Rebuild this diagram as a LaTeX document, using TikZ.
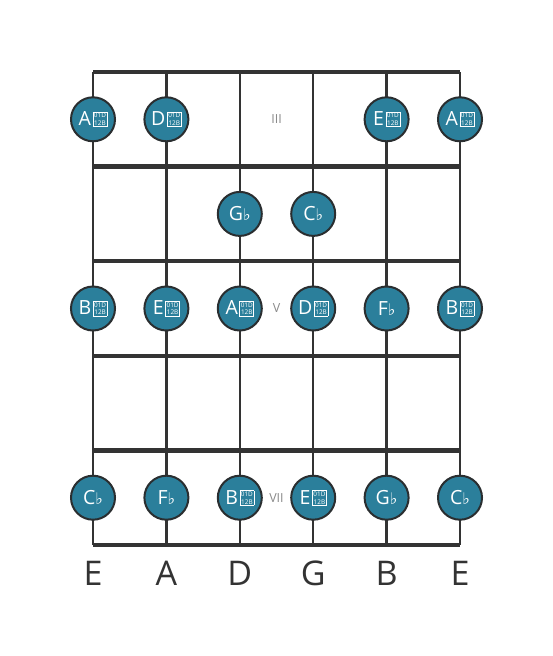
\documentclass[tikz,border=0pt]{standalone}
\usepackage{fontspec}
\setmainfont{Open Sans}
\newfontfamily\symfont{DejaVu Sans}
\usetikzlibrary{positioning}

\definecolor{linegray}{HTML}{333333}
\definecolor{ringgray}{HTML}{2A2E30}
\definecolor{notefill}{HTML}{2B7F9B}
\definecolor{fretgray}{HTML}{8A8A8A}

% missing-glyph box as the picture shows it
\newcommand{\tofubox}{{\setlength{\fboxsep}{0.7pt}\setlength{\fboxrule}{0.6pt}%
  \kern1.6pt\fbox{\fontsize{6.4}{6.2}\selectfont\shortstack{01D\\12B}}}}
\newcommand{\dfl}[1]{#1\tofubox}
\newcommand{\fl}[1]{#1{\symfont\fontsize{16}{16}\selectfont ♭}}

\begin{document}
\begin{tikzpicture}[x=1pt, y=-1pt,
    stringline/.style={line width=2.5pt, draw=linegray},
    fretline/.style={line width=4.5pt, draw=linegray},
    note/.style={circle, draw=ringgray, line width=2pt, fill=notefill,
      minimum size=44pt, inner sep=0pt, text=white,
      font=\fontsize{19.5}{19.5}\selectfont},
    fretnum/.style={text=fretgray, font=\fontsize{12.5}{12.5}\selectfont},
    strname/.style={text=linegray, font=\fontsize{34}{34}\selectfont}]
  \useasboundingbox (0,0) rectangle (553,656);

  % string tops and ends
  \coordinate (t1) at (93,72);    \coordinate (b1) at (93,545);
  \coordinate (t2) at (166.4,72); \coordinate (b2) at (166.4,545);
  \coordinate (t3) at (239.8,72); \coordinate (b3) at (239.8,545);
  \coordinate (t4) at (313.2,72); \coordinate (b4) at (313.2,545);
  \coordinate (t5) at (386.6,72); \coordinate (b5) at (386.6,545);
  \coordinate (t6) at (460,72);   \coordinate (b6) at (460,545);

  % fret rows
  \coordinate (f0) at (0,72);
  \coordinate (f1) at (0,166.6);
  \coordinate (f2) at (0,261.2);
  \coordinate (f3) at (0,355.8);
  \coordinate (f4) at (0,450.4);
  \coordinate (f5) at (0,545);
  \coordinate (r3) at (0,119.3);
  \coordinate (r4) at (0,213.9);
  \coordinate (r5) at (0,308.5);
  \coordinate (r7) at (0,497.7);

  \draw[stringline] (t1) -- (b1);
  \draw[stringline] (t2) -- (b2);
  \draw[stringline] (t3) -- (b3);
  \draw[stringline] (t4) -- (b4);
  \draw[stringline] (t5) -- (b5);
  \draw[stringline] (t6) -- (b6);

  \draw[fretline] (t1 |- f0) -- (t6 |- f0);
  \draw[fretline] (t1 |- f1) -- (t6 |- f1);
  \draw[fretline] (t1 |- f2) -- (t6 |- f2);
  \draw[fretline] (t1 |- f3) -- (t6 |- f3);
  \draw[fretline] (t1 |- f4) -- (t6 |- f4);
  \draw[fretline] (t1 |- f5) -- (t6 |- f5);

  % fret III
  \node[note] (n31) at (t1 |- r3) {\dfl{A}};
  \node[note] (n32) at (t2 |- r3) {\dfl{D}};
  \node[fretnum] (III) at (276.5,119.3) {III};
  \node[note] (n35) at (t5 |- r3) {\dfl{E}};
  \node[note] (n36) at (t6 |- r3) {\dfl{A}};

  % fret IV
  \node[note] (n43) at (t3 |- r4) {\fl{G}};
  \node[note] (n44) at (t4 |- r4) {\fl{C}};

  % fret V
  \node[note] (n51) at (t1 |- r5) {\dfl{B}};
  \node[note] (n52) at (t2 |- r5) {\dfl{E}};
  \node[note] (n53) at (t3 |- r5) {\dfl{A}};
  \node[fretnum] (V) at (276.5,308.5) {V};
  \node[note] (n54) at (t4 |- r5) {\dfl{D}};
  \node[note] (n55) at (t5 |- r5) {\fl{F}};
  \node[note] (n56) at (t6 |- r5) {\dfl{B}};

  % fret VII
  \node[note] (n71) at (t1 |- r7) {\fl{C}};
  \node[note] (n72) at (t2 |- r7) {\fl{F}};
  \node[note] (n73) at (t3 |- r7) {\dfl{B}};
  \node[fretnum] (VII) at (276.5,497.7) {VII};
  \node[note] (n74) at (t4 |- r7) {\dfl{E}};
  \node[note] (n75) at (t5 |- r7) {\fl{G}};
  \node[note] (n76) at (t6 |- r7) {\fl{C}};

  % open strings
  \node[strname] (e1) at (93,573) {E};
  \node[strname] (e2) at (166.4,573) {A};
  \node[strname] (e3) at (239.8,573) {D};
  \node[strname] (e4) at (313.2,573) {G};
  \node[strname] (e5) at (386.6,573) {B};
  \node[strname] (e6) at (460,573) {E};
\end{tikzpicture}
\end{document}
